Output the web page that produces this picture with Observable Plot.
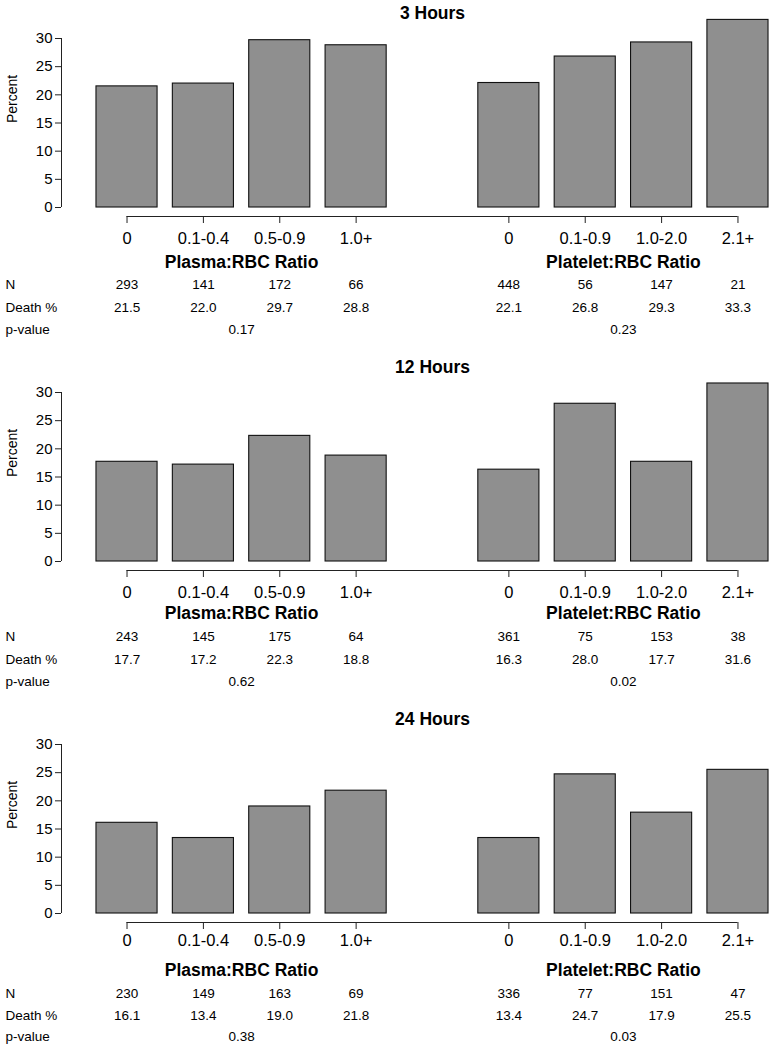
<!DOCTYPE html>
<html>
<head>
<meta charset="utf-8">
<script src="https://cdn.jsdelivr.net/npm/d3@7"></script>
<script src="https://cdn.jsdelivr.net/npm/@observablehq/plot@0.6"></script>
<style>
  html, body { margin: 0; padding: 0; background: #fff; }
  #chart { width: 777px; }
  #chart svg { display: block; }
</style>
</head>
<body>
<div id="chart"></div>
<script>
// ---------- data ----------
const panelTitles = ["3 Hours", "12 Hours", "24 Hours"];
const plasmaCats = ["0", "0.1-0.4", "0.5-0.9", "1.0+"];
const plateletCats = ["0", "0.1-0.9", "1.0-2.0", "2.1+"];
const groupLabels = ["Plasma:RBC Ratio", "Platelet:RBC Ratio"];
const rowLabels = ["N", "Death %", "p-value"];

const plasmaN = [[293, 141, 172, 66], [243, 145, 175, 64], [230, 149, 163, 69]];
const plasmaDeath = [[21.5, 22.0, 29.7, 28.8], [17.7, 17.2, 22.3, 18.8], [16.1, 13.4, 19.0, 21.8]];
const plasmaP = ["0.17", "0.62", "0.38"];

const plateletN = [[448, 56, 147, 21], [361, 75, 153, 38], [336, 77, 151, 47]];
const plateletDeath = [[22.1, 26.8, 29.3, 33.3], [16.3, 28.0, 17.7, 31.6], [13.4, 24.7, 17.9, 25.5]];
const plateletP = ["0.23", "0.02", "0.03"];

const yTicks = [0, 5, 10, 15, 20, 25, 30];

// ---------- layout ----------
const W = 777;
const panelHeights = [354, 352, 344];
const zeroY = 207, topY = 38, axisY0 = 216;
// per-panel vertical offsets below the x-axis line: [tickPadding, group, N, Death, p]
const panelOffsets = [
  [9, 51, 72, 95, 117],
  [9, 48, 70, 93, 115],
  [5, 53, 75, 97, 118]
];
const font = "'Liberation Sans', Arial, Helvetica, sans-serif";
const xDomain = [-0.858, 8.5];
const xRange = [61, 775.65];
const yDomain = [0, 30];
const barHalf = 0.4;

const chart = document.getElementById("chart");

panelTitles.forEach((title, p) => {
  const H = panelHeights[p];
  const off = panelOffsets[p];
  const groups = [
    {cats: plasmaCats, n: plasmaN[p], death: plasmaDeath[p], pval: plasmaP[p], label: groupLabels[0], offset: 0},
    {cats: plateletCats, n: plateletN[p], death: plateletDeath[p], pval: plateletP[p], label: groupLabels[1], offset: 5}
  ];
  const rows = groups.flatMap(g => g.cats.map((c, i) => ({
    pos: g.offset + i, cat: c, n: g.n[i], death: g.death[i]
  })));
  const groupRows = groups.map(g => ({
    label: g.label, pval: g.pval, pos: g.offset + (g.cats.length - 1) / 2
  }));
  const labelByPos = new Map(rows.map(d => [d.pos, d.cat]));
  const firstPos = d3.min(rows, d => d.pos), lastPos = d3.max(rows, d => d.pos);
  const titleX = (firstPos - 0.5 + lastPos + 0.5) / 2;

  const plot = Plot.plot({
    width: W,
    height: H,
    marginLeft: 61,
    marginRight: W - xRange[1],
    marginTop: topY,
    marginBottom: H - axisY0,
    style: {fontFamily: font, background: "white", color: "black", overflow: "visible"},
    x: {type: "linear", domain: xDomain, range: xRange},
    y: {type: "linear", domain: yDomain, range: [zeroY, topY]},
    marks: [
      Plot.rectY(rows, {
        x1: d => d.pos - barHalf, x2: d => d.pos + barHalf, y1: 0, y2: "death",
        fill: "#8f8f8f", stroke: "#111", strokeWidth: 1.1
      }),
      // y axis
      Plot.ruleX([xDomain[0]], {y1: yDomain[0], y2: yDomain[1], stroke: "#222"}),
      Plot.axisY({ticks: yTicks, tickSize: 6, tickPadding: 3, fontSize: 15, label: null, stroke: "#222"}),
      Plot.text(["Percent"], {frameAnchor: "left", y: () => (yDomain[0] + yDomain[1]) / 2, rotate: -90, dx: -49, fontSize: 14}),
      // x axis
      Plot.ruleY([0], {x1: firstPos, x2: lastPos, dy: axisY0 - zeroY, stroke: "#222"}),
      Plot.axisX({ticks: rows.map(d => d.pos), tickFormat: d => labelByPos.get(d), tickSize: 7, tickPadding: off[0], fontSize: 16.5, label: null, stroke: "#222"}),
      // title
      Plot.text([title], {x: () => titleX, frameAnchor: "top", dy: -32, fontSize: 17.5, fontWeight: "bold"}),
      // group labels
      Plot.text(groupRows, {x: "pos", text: "label", frameAnchor: "bottom", dy: off[1], fontSize: 17.5, fontWeight: "bold"}),
      // table rows
      Plot.text(rows, {x: "pos", text: d => String(d.n), frameAnchor: "bottom", dy: off[2], fontSize: 13.5}),
      Plot.text(rows, {x: "pos", text: d => d.death.toFixed(1), frameAnchor: "bottom", dy: off[3], fontSize: 13.5}),
      Plot.text(groupRows, {x: "pos", text: "pval", frameAnchor: "bottom", dy: off[4], fontSize: 13.5}),
      // row labels
      Plot.text([rowLabels[0]], {frameAnchor: "bottom-left", dx: -56, dy: off[2], textAnchor: "start", fontSize: 13.5}),
      Plot.text([rowLabels[1]], {frameAnchor: "bottom-left", dx: -56, dy: off[3], textAnchor: "start", fontSize: 13.5}),
      Plot.text([rowLabels[2]], {frameAnchor: "bottom-left", dx: -56, dy: off[4], textAnchor: "start", fontSize: 13.5})
    ]
  });
  chart.appendChild(plot);
});
</script>
</body>
</html>
